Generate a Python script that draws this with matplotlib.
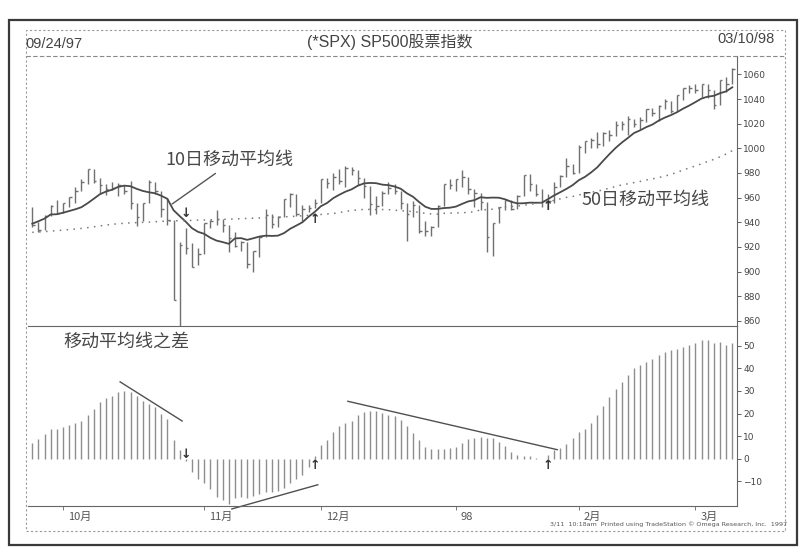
import matplotlib
matplotlib.use("Agg")
import matplotlib.pyplot as plt
from matplotlib.patches import Rectangle
from matplotlib.lines import Line2D
import numpy as np

# ---- data: daily bars 09/24/97 .. 03/10/98 (115 trading days) ----
highs = [952.7, 940.0, 946.0, 953.9, 958.0, 956.0, 960.5, 969.0, 974.7, 983.1,
         983.1, 976.0, 971.0, 973.0, 972.0, 970.3, 973.4, 955.3, 956.0, 974.0,
         973.0, 965.7, 960.0, 941.6, 923.6, 935.2, 923.3, 919.0, 939.0, 942.0,
         949.6, 943.0, 938.0, 932.0, 925.0, 923.8, 917.0, 929.0, 951.0, 947.0,
         945.0, 959.0, 964.0, 963.1, 954.0, 954.0, 959.0, 974.8, 976.0, 980.0,
         983.0, 986.0, 985.0, 982.4, 976.0, 969.8, 961.0, 965.0, 973.0, 971.0,
         965.5, 955.3, 957.0, 954.0, 941.0, 937.0, 953.9, 970.8, 975.0, 975.0,
         982.6, 977.1, 966.6, 964.0, 956.1, 939.3, 952.2, 958.0, 957.9, 962.0,
         978.6, 979.0, 971.0, 967.0, 963.0, 973.0, 978.0, 992.0, 987.0, 1002.5,
         1006.0, 1008.0, 1013.0, 1013.0, 1015.0, 1022.0, 1022.0, 1026.0, 1024.1, 1025.0,
         1032.1, 1033.0, 1035.0, 1040.0, 1038.1, 1043.0, 1049.0, 1051.0, 1052.0, 1052.0,
         1052.0, 1047.3, 1055.7, 1058.0, 1065.5]
lows = [936.0, 932.0, 933.4, 945.2, 947.0, 947.3, 952.5, 956.0, 965.0, 971.0,
        971.5, 964.0, 962.0, 966.0, 961.0, 962.7, 950.6, 937.0, 941.0, 955.6,
        963.0, 944.0, 938.0, 876.7, 855.3, 913.9, 903.7, 905.0, 914.6, 935.0,
        938.0, 932.0, 916.0, 920.0, 917.0, 903.0, 900.0, 912.0, 928.4, 935.0,
        936.0, 944.6, 952.0, 945.0, 941.0, 948.0, 951.6, 955.4, 968.0, 966.0,
        971.0, 969.0, 978.0, 970.0, 960.0, 946.0, 947.0, 953.4, 963.0, 963.0,
        951.0, 924.9, 944.0, 931.6, 929.0, 929.0, 936.5, 953.4, 967.0, 965.7,
        969.0, 962.7, 952.7, 950.0, 916.0, 912.8, 939.2, 950.0, 950.3, 950.7,
        961.5, 965.0, 961.0, 952.0, 951.0, 956.0, 969.0, 977.0, 979.0, 980.3,
        996.0, 1000.0, 1000.0, 1002.0, 1006.0, 1010.0, 1015.0, 1011.0, 1017.0, 1016.0,
        1021.0, 1026.0, 1022.0, 1032.0, 1029.0, 1030.6, 1039.0, 1045.0, 1045.0, 1042.0,
        1041.0, 1032.0, 1035.1, 1046.0, 1052.3]
closes = [937.9, 933.4, 945.2, 953.3, 947.3, 955.4, 960.5, 965.0, 972.7, 983.1,
          973.8, 970.6, 967.0, 968.1, 970.3, 965.7, 955.3, 944.2, 955.6, 972.3,
          965.7, 950.7, 941.6, 877.0, 921.9, 919.2, 903.7, 914.6, 939.0, 940.8,
          942.8, 938.0, 927.5, 921.1, 923.8, 906.0, 916.7, 928.4, 946.2, 938.2,
          944.6, 959.0, 963.1, 946.7, 950.8, 951.6, 955.4, 974.8, 971.7, 976.8,
          973.1, 983.8, 982.4, 975.8, 969.8, 954.9, 953.4, 963.4, 968.0, 965.5,
          955.3, 946.8, 953.7, 932.7, 932.7, 936.5, 953.4, 970.8, 970.4, 975.0,
          977.1, 966.6, 964.0, 956.1, 927.7, 939.2, 952.1, 957.9, 950.7, 961.5,
          978.6, 970.8, 963.0, 957.6, 957.0, 969.0, 977.5, 985.5, 980.3, 1001.3,
          1006.0, 1006.9, 1003.5, 1012.5, 1010.7, 1019.0, 1020.0, 1024.1, 1020.1, 1022.8,
          1032.1, 1028.3, 1034.2, 1038.1, 1030.6, 1042.9, 1048.7, 1049.3, 1047.7, 1052.0,
          1047.3, 1035.1, 1055.7, 1052.3, 1064.3]
ma10 = [938.8, 940.8, 943.0, 946.3, 946.5, 947.7, 949.1, 950.5, 952.2, 955.4,
        959.0, 962.7, 964.9, 966.4, 968.7, 969.7, 969.2, 967.1, 965.4, 964.3,
        963.5, 961.5, 959.0, 949.8, 945.0, 940.4, 935.2, 932.2, 930.6, 927.4,
        925.1, 923.9, 922.5, 926.9, 927.1, 925.7, 927.0, 928.4, 929.1, 928.9,
        929.1, 931.2, 934.7, 937.3, 940.0, 944.5, 948.4, 953.0, 955.6, 959.5,
        962.3, 964.8, 966.7, 969.6, 971.5, 971.9, 971.7, 970.5, 970.1, 969.0,
        967.2, 963.5, 960.7, 956.4, 952.6, 950.8, 950.8, 951.5, 951.8, 952.7,
        954.9, 956.9, 957.9, 960.3, 959.8, 960.0, 959.9, 958.6, 956.6, 955.3,
        955.4, 955.9, 955.8, 955.9, 958.8, 961.8, 964.4, 967.1, 970.1, 974.1,
        976.8, 980.4, 984.5, 990.0, 995.3, 1000.3, 1004.6, 1008.4, 1012.4, 1014.6,
        1017.2, 1019.3, 1022.4, 1024.9, 1026.9, 1029.3, 1032.2, 1034.7, 1037.5, 1040.4,
        1041.9, 1042.6, 1044.7, 1046.2, 1049.5]
ma50 = [931.8, 932.1, 932.4, 932.8, 933.2, 933.6, 934.0, 934.5, 935.0, 935.6,
        936.3, 937.0, 937.7, 938.3, 938.8, 939.2, 939.5, 939.7, 939.9, 940.1,
        940.4, 940.7, 940.9, 941.1, 941.3, 941.4, 941.5, 941.7, 941.8, 942.0,
        942.1, 942.3, 942.5, 942.7, 942.9, 943.1, 943.3, 943.5, 943.7, 943.9,
        944.1, 944.4, 944.6, 944.9, 945.3, 945.6, 946.0, 946.3, 946.7, 947.1,
        947.8, 948.8, 949.5, 950.0, 950.4, 950.4, 950.3, 950.3, 950.2, 949.8,
        949.4, 949.0, 948.7, 948.0, 947.2, 946.7, 946.6, 947.2, 947.4, 947.5,
        947.7, 948.0, 948.5, 950.1, 950.2, 950.6, 951.6, 952.4, 952.7, 953.1,
        953.8, 954.4, 955.2, 955.9, 956.6, 957.8, 959.0, 960.2, 960.9, 962.1,
        963.3, 964.3, 965.1, 966.4, 967.6, 969.0, 970.3, 971.2, 972.2, 973.1,
        974.3, 975.2, 976.2, 977.5, 978.7, 980.5, 982.4, 984.1, 985.7, 987.4,
        989.3, 991.0, 993.1, 995.4, 998.1]
ma_diff = [7.0, 8.9, 10.8, 13.2, 13.1, 14.1, 15.0, 16.0, 16.9, 19.4,
           22.1, 25.0, 26.8, 27.7, 29.5, 30.1, 29.6, 27.6, 25.6, 24.2,
           22.7, 20.0, 17.6, 8.3, 4.0, -1.0, -6.0, -8.8, -10.7, -13.6,
           -16.9, -18.4, -20.0, -17.5, -16.9, -17.2, -16.3, -15.4, -14.8, -14.6,
           -14.3, -12.8, -10.8, -8.9, -7.0, -3.5, 1.0, 6.2, 8.4, 12.0,
           14.3, 16.0, 16.9, 19.3, 20.8, 21.2, 21.1, 20.2, 19.5, 18.9,
           17.3, 14.3, 11.6, 8.3, 5.1, 4.1, 4.1, 4.3, 4.6, 5.2,
           7.0, 8.7, 9.2, 9.6, 9.3, 9.0, 7.6, 5.7, 3.2, 1.8,
           1.3, 1.1, 0.4, -0.3, 1.5, 4.0, 4.8, 6.7, 9.0, 11.7,
           13.3, 15.8, 19.2, 23.5, 27.3, 31.0, 34.1, 37.0, 40.0, 41.5,
           42.7, 44.1, 46.0, 47.1, 48.0, 48.5, 49.5, 50.2, 51.4, 52.7,
           52.5, 51.4, 51.5, 50.5, 51.2]

# month starts (bar index) and labels
month_idx = [5, 28, 47, 69, 89, 108]
month_labels = ["10月", "11月", "12月", "98", "2月", "3月"]

# crossover signals: (bar index, price level, value level, direction)
signal_idx = [25, 46, 84]
signal_price = [947, 942, 953]
signal_diff = [2, -3, -3]
signal_dir = ["down", "up", "up"]

# trend lines drawn on the difference panel
trend_lines = [((14.3, 34.0), (24.4, 16.7)),
               ((32.5, -22.2), (46.5, -11.5)),
               ((51.4, 25.4), (85.5, 4.0))]

CJK = ["Noto Sans CJK SC", "DejaVu Sans"]
W, H = 802, 551


def fx(x):
    return x / W


def fy(y):
    return 1 - y / H


fig = plt.figure(figsize=(W / 100, H / 100), dpi=100)
fig.patch.set_facecolor("white")

ax1 = fig.add_axes([fx(28), fy(326), fx(737) - fx(28), fy(56) - fy(326)])
ax2 = fig.add_axes([fx(28), fy(506), fx(737) - fx(28), fy(326) - fy(506)])

idx = np.arange(len(closes))
bar_col = "#707070"

# price bars
ax1.vlines(idx, lows, highs, color=bar_col, lw=1.0)
ax1.hlines(closes, idx, idx + 0.4, color=bar_col, lw=1.0)
ax1.plot(idx, ma10, color="#4a4a4a", lw=1.3)
ax1.plot(idx, ma50, color="#7a7a7a", lw=1.1, linestyle=(0, (1, 3.5)))

# difference bars
ax2.vlines(idx, 0, ma_diff, color="#8e8e8e", lw=1.0)
for (x0, y0), (x1, y1) in trend_lines:
    ax2.plot([x0, x1], [y0, y1], color="#505050", lw=1.0, clip_on=False)

for i, p, d, s in zip(signal_idx, signal_price, signal_diff, signal_dir):
    glyph = "↓" if s == "down" else "↑"
    ax1.text(i, p, glyph, ha="center", va="center", fontsize=9,
             fontweight="bold", color="#333333")
    ax2.text(i, d, glyph, ha="center", va="center", fontsize=9,
             fontweight="bold", color="#333333")

xlim = (-0.7, 114.77)
ax1.set_xlim(*xlim)
ax2.set_xlim(*xlim)
ax1.set_ylim(855.8, 1074.9)
ax2.set_ylim(-20.9, 58.7)

for ax in (ax1, ax2):
    ax.yaxis.tick_right()
    ax.tick_params(axis="y", labelsize=6.5, length=3, width=0.6,
                   colors="#444444", pad=1.5)
    for side in ("left", "top"):
        ax.spines[side].set_visible(False)
    for side in ("right", "bottom"):
        ax.spines[side].set_color("#666666")
        ax.spines[side].set_linewidth(0.8)
    ax.set_facecolor("none")

ax1.set_yticks(range(860, 1061, 20))
ax1.set_xticks([])
ax2.set_yticks(range(-10, 51, 10))
ax2.set_xticks(month_idx)
ax2.set_xticklabels([""] * len(month_idx))
ax2.tick_params(axis="x", length=3, width=0.6, colors="#666666")

for i, lab in zip(month_idx, month_labels):
    ax2.text(i + 0.8, -25.8, lab, ha="left", va="center", fontsize=8,
             family=CJK, color="#555555", clip_on=False)

# annotations
ax1.annotate("", xy=(22.4, 953.5), xytext=(30.2, 980.9),
             arrowprops=dict(arrowstyle="-", color="#555555", lw=1.0))
ax1.text(21.6, 990.6, "10日移动平均线", ha="left", va="center",
         fontsize=13, family=CJK, color="#484848")
ax1.text(89.5, 958.6, "50日移动平均线", ha="left", va="center",
         fontsize=13, family=CJK, color="#484848")
ax2.text(5.0, 51.7, "移动平均线之差", ha="left", va="center",
         fontsize=13, family=CJK, color="#484848")

# title row
fig.text(fx(25), fy(44), "09/24/97", ha="left", va="center", fontsize=10.5,
         family=["Liberation Sans", "DejaVu Sans"], color="#444444")
fig.text(fx(775), fy(39), "03/10/98", ha="right", va="center", fontsize=10.5,
         family=["Liberation Sans", "DejaVu Sans"], color="#444444")
fig.text(fx(390), fy(42), "(*SPX) SP500股票指数", ha="center", va="center",
         fontsize=11.5, family=["Liberation Sans", "Noto Sans CJK SC"],
         color="#444444")
fig.text(fx(787), fy(524),
         "3/11  10:18am  Printed using TradeStation © Omega Research, Inc.  1997",
         ha="right", va="center", fontsize=4.6, color="#555555")

# frames
fig.add_artist(Rectangle((fx(9), fy(545)), fx(797) - fx(9), fy(20) - fy(545),
                         transform=fig.transFigure, fill=False,
                         ec="#3a3a3a", lw=1.6))
fig.add_artist(Rectangle((fx(26), fy(531)), fx(785) - fx(26), fy(30) - fy(531),
                         transform=fig.transFigure, fill=False,
                         ec="#9a9a9a", lw=0.8, ls=(0, (2, 2))))
fig.add_artist(Line2D([fx(26), fx(785)], [fy(56), fy(56)],
                      transform=fig.transFigure, color="#8a8a8a", lw=0.8,
                      ls=(0, (4, 2))))

fig.savefig("out.png", dpi=100)
